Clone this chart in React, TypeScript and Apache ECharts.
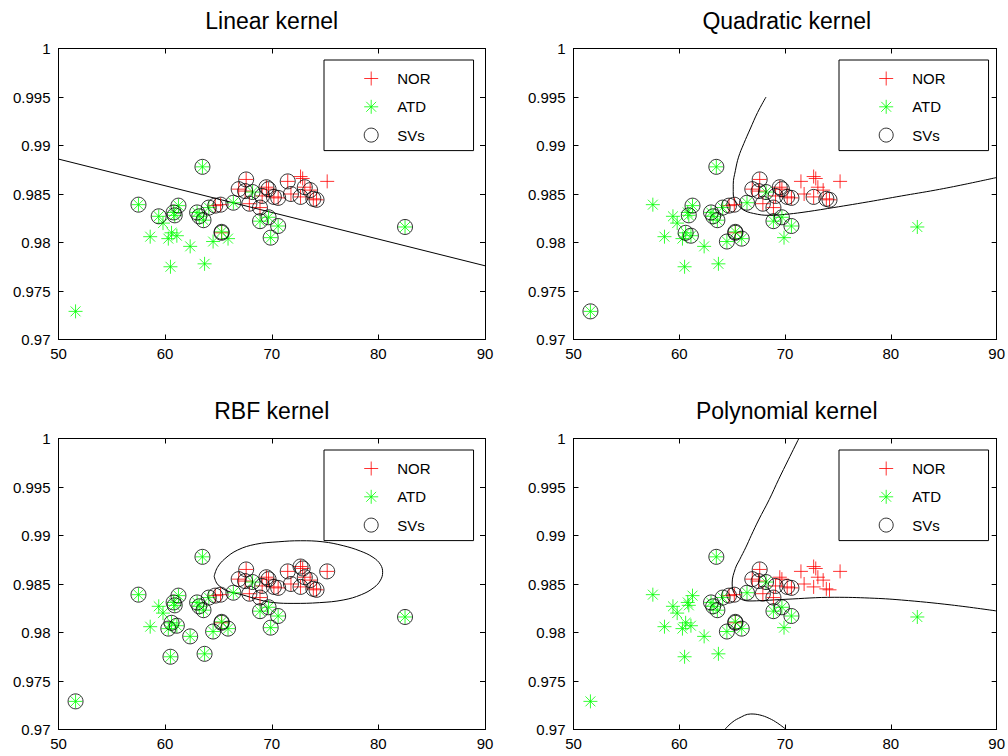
import React, { useEffect, useRef } from "react";
import * as echarts from "echarts";

// ---------------- data ----------------
const TITLES = ["Linear kernel", "Quadratic kernel", "RBF kernel", "Polynomial kernel"];
const LEGEND_NAMES = ["NOR", "ATD", "SVs"];
const X_MIN = 50, X_MAX = 90, X_STEP = 10;
const Y_MIN = 0.97, Y_MAX = 1, Y_STEP = 0.005;

// NOR class (red +)
const NOR: number[][] = [
  [64.7, 0.9838], [65.2, 0.9839], [65.3, 0.9810], [66.9, 0.9855], [67.5, 0.9853],
  [67.6, 0.9865], [67.9, 0.9840], [68.9, 0.9836], [69.1, 0.9848], [69.5, 0.9857],
  [69.7, 0.9855], [70.2, 0.9847], [70.6, 0.9846], [71.5, 0.9863], [71.8, 0.9850],
  [72.7, 0.9868], [72.9, 0.9866], [72.7, 0.9847], [73.1, 0.9857], [73.6, 0.9854],
  [73.9, 0.9845], [74.2, 0.9844], [75.2, 0.9863],
];

// ATD class (green *)
const ATD: number[][] = [
  [51.6, 0.9729], [57.5, 0.9839], [58.6, 0.9806], [59.4, 0.9827], [59.8, 0.9820],
  [60.3, 0.9804], [60.5, 0.9775], [60.6, 0.9810], [60.8, 0.9831], [60.9, 0.9828],
  [61.1, 0.9807], [61.25, 0.9838], [62.35, 0.9796], [63.0, 0.9831], [63.2, 0.9827],
  [63.5, 0.9878], [63.6, 0.9823], [63.7, 0.9778], [64.1, 0.9836], [64.5, 0.9801],
  [65.3, 0.9811], [65.9, 0.9804], [66.4, 0.9841], [68.2, 0.9852], [68.9, 0.9822],
  [69.7, 0.9826], [69.9, 0.9805], [70.6, 0.9817], [82.5, 0.9816],
];

// support vectors (indices into NOR / ATD) per kernel
const SV_LINEAR_NOR = [0, 1, 2, 3, 4, 5, 6, 7, 8, 9, 10, 11, 12, 13, 14, 17, 18, 19, 20, 21];
const SV_LINEAR_ATD = [1, 3, 8, 9, 11, 13, 14, 15, 16, 18, 20, 22, 23, 24, 25, 26, 27, 28];
const SV_QUAD_NOR = [0, 1, 2, 3, 4, 5, 6, 7, 8, 9, 10, 11, 12, 17, 20, 21];
const SV_QUAD_ATD = [0, 7, 9, 10, 11, 13, 14, 15, 16, 18, 19, 20, 21, 22, 23, 24, 25, 27];
const SV_RBF_NOR = [0, 1, 2, 3, 4, 5, 6, 7, 8, 9, 10, 11, 12, 13, 14, 15, 16, 17, 18, 19, 20, 21, 22];
const SV_RBF_ATD = [0, 1, 5, 6, 7, 8, 9, 10, 11, 12, 13, 14, 15, 16, 17, 18, 19, 20, 21, 22, 23, 24, 25, 26, 27, 28];
const SV_POLY_NOR = [0, 1, 2, 3, 4, 5, 6, 7, 8, 11, 12];
const SV_POLY_ATD = [13, 14, 15, 16, 18, 19, 20, 21, 22, 23, 24, 25, 27];

// decision boundaries
const BOUNDARY_LINEAR = [[50, 0.9886], [90, 0.9776]];
const BOUNDARY_QUAD = [
  [68.2, 0.995], [67.4, 0.9934], [66.7, 0.9917], [66.1, 0.9902], [65.6, 0.9888],
  [65.3, 0.9874], [65.1, 0.986], [65.1, 0.985], [65.4, 0.9841], [66.0, 0.9834],
  [67.0, 0.983], [68.5, 0.9828], [70.0, 0.9829], [71.6, 0.9831], [74.0, 0.9835],
  [77.9, 0.9842], [81.0, 0.9848], [84.2, 0.9854], [87.0, 0.986], [90.0, 0.9867],
];
const BOUNDARY_RBF = [
  [64.6, 0.9858], [64.9, 0.9867], [65.6, 0.9876], [66.8, 0.9885], [68.5, 0.9891],
  [70.6, 0.98935], [72.7, 0.98946], [74.8, 0.98935], [76.7, 0.98895], [78.3, 0.9884],
  [79.5, 0.98775], [80.2, 0.9870], [80.4, 0.9862], [80.2, 0.9854], [79.6, 0.98465],
  [78.4, 0.9839], [76.7, 0.98335], [74.5, 0.98308], [72.0, 0.983], [70.2, 0.98308],
  [68.9, 0.98335], [67.2, 0.9839], [65.8, 0.9843], [64.9, 0.985], [64.6, 0.9858],
];
const BOUNDARY_POLY_UPPER = [
  [71.3, 1.0], [70.3, 0.9978], [69.4, 0.9958], [68.5, 0.9937], [67.5, 0.9916],
  [66.8, 0.99], [66.3, 0.9888], [65.7, 0.9875], [65.3, 0.9866], [65.0, 0.9851],
  [65.3, 0.9839], [66.6, 0.98325], [68.0, 0.9833], [70.0, 0.98342], [74.7, 0.98363],
  [78.0, 0.98355], [81.0, 0.98335], [85.7, 0.98284], [90.0, 0.98222],
];
const BOUNDARY_POLY_LOWER = [
  [64.3, 0.97], [64.9, 0.97065], [65.6, 0.97115], [66.75, 0.9716], [67.6, 0.9715],
  [68.5, 0.97115], [69.3, 0.97065], [70.1, 0.97],
];

// ---------------- layout / styles ----------------
const FONT = "'Liberation Sans', Arial, Helvetica, sans-serif";
const GRID_W = 426.5;
const GRID_H = 291;
const GRIDS = [
  { left: 58.5, top: 48.5 },
  { left: 573.5, top: 48.5 },
  { left: 58.5, top: 438.5 },
  { left: 573.5, top: 438.5 },
];
const PLUS = "path://M7,0L7,14M0,7L14,7";
const STAR = "path://M7,0L7,14M0,7L14,7M2.05,2.05L11.95,11.95M11.95,2.05L2.05,11.95";

export default function App() {
  const ref = useRef<HTMLDivElement>(null);
  useEffect(() => {
    if (!ref.current) return;
    const chart = echarts.init(ref.current, undefined, { renderer: "svg" });

    const panels = [
      { svNor: SV_LINEAR_NOR, svAtd: SV_LINEAR_ATD, bounds: [BOUNDARY_LINEAR], smooth: false },
      { svNor: SV_QUAD_NOR, svAtd: SV_QUAD_ATD, bounds: [BOUNDARY_QUAD], smooth: true },
      { svNor: SV_RBF_NOR, svAtd: SV_RBF_ATD, bounds: [BOUNDARY_RBF], smooth: true },
      { svNor: SV_POLY_NOR, svAtd: SV_POLY_ATD, bounds: [BOUNDARY_POLY_UPPER, BOUNDARY_POLY_LOWER], smooth: true },
    ];

    const axisLine = { show: true, onZero: false, lineStyle: { color: "#000", width: 1 } };
    const axisTick = { show: true, inside: true, length: 5, lineStyle: { color: "#000", width: 1 } };
    const xAxes: any[] = [];
    const yAxes: any[] = [];
    GRIDS.forEach((_, g) => {
      const xBase = { gridIndex: g, type: "value", min: X_MIN, max: X_MAX, interval: X_STEP, axisLine, axisTick, splitLine: { show: false } };
      const yBase = { gridIndex: g, type: "value", min: Y_MIN, max: Y_MAX, interval: Y_STEP, axisLine, axisTick, splitLine: { show: false } };
      xAxes.push({ ...xBase, position: "bottom", axisLabel: { color: "#000", fontSize: 15, fontFamily: FONT, margin: 6 } });
      xAxes.push({ ...xBase, position: "top", axisLabel: { show: false } });
      yAxes.push({
        ...yBase, position: "left",
        axisLabel: { color: "#000", fontSize: 15, fontFamily: FONT, margin: 8, formatter: (v: number) => String(parseFloat(v.toFixed(3))) },
      });
      yAxes.push({ ...yBase, position: "right", axisLabel: { show: false } });
    });

    const series: any[] = [];
    panels.forEach((p, g) => {
      const ax = { xAxisIndex: 2 * g, yAxisIndex: 2 * g };
      p.bounds.forEach((b) => {
        series.push({
          type: "line", ...ax, data: b, symbol: "none", smooth: p.smooth ? 0.4 : false, silent: true,
          lineStyle: { color: "#000", width: 1 }, z: 1,
        });
      });
      series.push({
        name: "NOR", type: "scatter", ...ax, data: NOR, symbol: PLUS, symbolSize: 14, silent: true,
        itemStyle: { color: "none", borderColor: "#ff0000", borderWidth: 1 }, z: 2,
      });
      series.push({
        name: "ATD", type: "scatter", ...ax, data: ATD, symbol: STAR, symbolSize: 14, silent: true,
        itemStyle: { color: "none", borderColor: "#00ff00", borderWidth: 1 }, z: 3,
      });
      const sv = [...p.svNor.map((i) => NOR[i]), ...p.svAtd.map((i) => ATD[i])];
      series.push({
        name: "SVs", type: "scatter", ...ax, data: sv, symbol: "circle", symbolSize: 15, silent: true,
        itemStyle: { color: "none", borderColor: "#000", borderWidth: 1 }, z: 4,
      });
    });

    const option: any = {
      animation: false,
      backgroundColor: "#fff",
      title: GRIDS.map((gr, g) => ({
        text: TITLES[g], left: gr.left + GRID_W / 2, top: gr.top - 39, textAlign: "center", padding: 0,
        textStyle: { fontSize: 23, fontWeight: "normal", color: "#000", fontFamily: FONT },
      })),
      legend: GRIDS.map((gr) => ({
        data: LEGEND_NAMES, orient: "vertical", left: gr.left + 265.5, top: gr.top + 11.5,
        itemWidth: 42, itemHeight: 14, itemGap: 9.3, padding: [9, 43, 6, 37.7],
        borderColor: "#000", borderWidth: 1, selectedMode: false,
        itemStyle: { borderWidth: 1 },
        textStyle: { fontSize: 15, color: "#000", fontFamily: FONT },
      })),
      grid: GRIDS.map((gr) => ({ left: gr.left, top: gr.top, width: GRID_W, height: GRID_H, containLabel: false })),
      xAxis: xAxes,
      yAxis: yAxes,
      series,
    };
    chart.setOption(option);
    return () => chart.dispose();
  }, []);
  return <div ref={ref} style={{ position: "fixed", left: 0, top: 0, width: 1008, height: 756, background: "#fff" }} />;
}
